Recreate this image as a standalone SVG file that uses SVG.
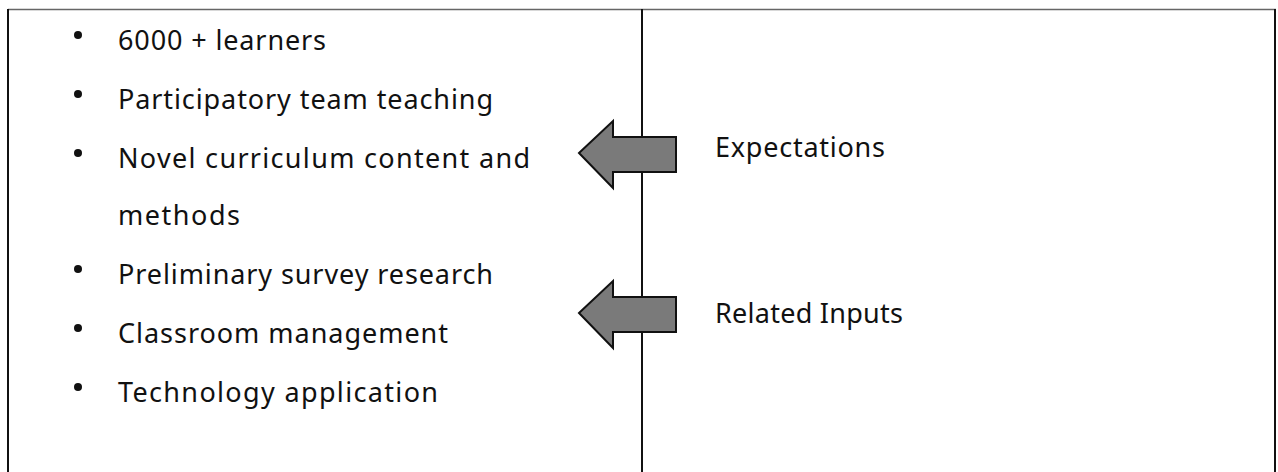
<svg xmlns="http://www.w3.org/2000/svg" width="1278" height="472" viewBox="0 0 1278 472">
<style>
.t{font-family:"Noto Sans","Open Sans",sans-serif;font-size:27px;fill:#111}
.frame{stroke:#111;stroke-width:2;fill:none}
.arrow{fill:#7a7a7a;stroke:#111;stroke-width:2;stroke-linejoin:miter}
</style>
<rect width="1278" height="472" fill="#fff"/>
<g id="frame">
<line x1="8" y1="9.5" x2="1276" y2="9.5" stroke="#666" stroke-width="1.5"/>
<line class="frame" x1="8" y1="9" x2="8" y2="472"/>
<line class="frame" x1="1275" y1="9" x2="1275" y2="472"/>
<line class="frame" x1="642" y1="9" x2="642" y2="472"/>
</g>
<g id="list">
<g fill="#111">
<circle cx="78" cy="35" r="4"/>
<circle cx="78" cy="94" r="4"/>
<circle cx="78" cy="153" r="4"/>
<circle cx="78" cy="269" r="4"/>
<circle cx="78" cy="328" r="4"/>
<circle cx="78" cy="387" r="4"/>
</g>
<text class="t" x="118" y="50" textLength="208" lengthAdjust="spacing">6000 + learners</text>
<text class="t" x="118" y="109" textLength="375" lengthAdjust="spacing">Participatory team teaching</text>
<text class="t" x="118" y="168" textLength="412" lengthAdjust="spacing">Novel curriculum content and</text>
<text class="t" x="118" y="225" textLength="122" lengthAdjust="spacing">methods</text>
<text class="t" x="118" y="284" textLength="375" lengthAdjust="spacing">Preliminary survey research</text>
<text class="t" x="118" y="343" textLength="330" lengthAdjust="spacing">Classroom management</text>
<text class="t" x="118" y="402" textLength="320" lengthAdjust="spacing">Technology application</text>
</g>
<g id="connectors">
<polygon class="arrow" points="579,153 613,121 613,137 676,137 676,172 613,172 613,188"/>
<polygon class="arrow" points="579,313 613,281 613,297 676,297 676,332 613,332 613,348"/>
</g>
<g id="expectations"><text class="t" x="715" y="157" textLength="170" lengthAdjust="spacing">Expectations</text></g>
<g id="related-inputs"><text class="t" x="715" y="323" textLength="188" lengthAdjust="spacing">Related Inputs</text></g>
</svg>
